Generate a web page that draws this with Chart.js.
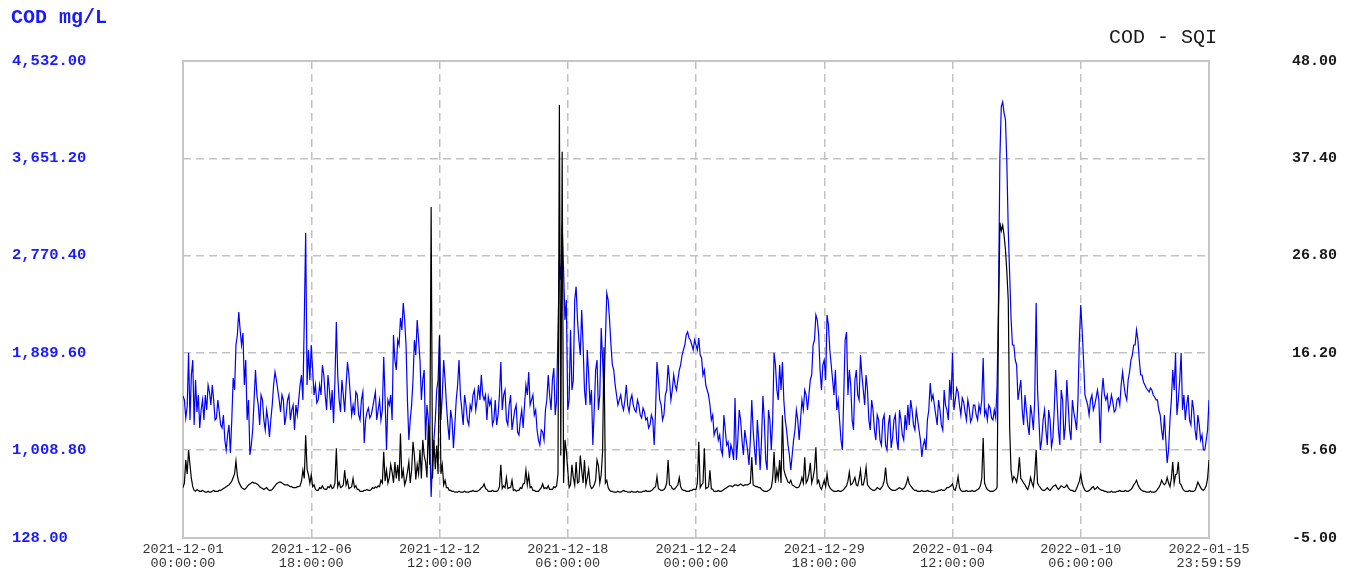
<!DOCTYPE html>
<html>
<head>
<meta charset="utf-8">
<title>COD - SQI</title>
<script src="https://cdn.jsdelivr.net/npm/chart.js@4.4.1/dist/chart.umd.min.js"></script>
<style>
  body { margin: 0; background: #fff; }
  #wrap { width: 1353px; height: 573px; }
</style>
</head>
<body>
<div id="wrap"><canvas id="codChart" width="1353" height="573"></canvas></div>
<script>
// time axis: hours since 2021-12-01 00:00
// main samples every 3 hours, plus an in-between sample (+1.5 h) read from the band of the trace
const stepHours = 3;
const tickHours = [0, 138, 276, 414, 552, 690, 828, 966, 1104];
const tickLabels = [
    ["2021-12-01", "00:00:00"], ["2021-12-06", "18:00:00"], ["2021-12-12", "12:00:00"],
    ["2021-12-18", "06:00:00"], ["2021-12-24", "00:00:00"], ["2021-12-29", "18:00:00"],
    ["2022-01-04", "12:00:00"], ["2022-01-10", "06:00:00"], ["2022-01-15", "23:59:59"]
];

// left axis (COD mg/L); the bottom label reads 128.00 but sits at the frame edge
const codTicks = [1008.80, 1889.60, 2770.40, 3651.20, 4532.00];
const codAxisMin = 211.8;
const codBottomLabel = "128.00";

// right axis (SQI)
const sqiTicks = [5.60, 16.20, 26.80, 37.40, 48.00];
const sqiAxisMin = -3.99;
const sqiBottomLabel = "-5.00";

const codValues = [
    // 12-01 .. 12-06
    1498, 1299, 1890, 1688, 1236, 1353, 1208, 1462, 1507, 1598,
    1416, 1462, 1299, 1353, 1208, 1099, 1145, 982, 1661, 1960,
    2259, 1960, 1598, 1281, 964, 1190, 1733, 1416, 1507, 1281,
    1371, 1127, 1416, 1715, 1552, 1353, 1462, 1326, 1507, 1371,
    1190, 1326, 1598, 1462, 2974, 1915,
    // 12-06 .. 12-12
    1960, 1507, 1435, 1598, 1779, 1507, 1688, 1371, 1253, 2168,
    1462, 1643, 1353, 1806, 1507, 1416, 1534, 1326, 1462, 1072,
    1353, 1299, 1389, 1534, 1371, 1281, 1851, 1009, 1416, 1281,
    1824, 2005, 2205, 2340, 1960, 1099, 1416, 2005, 2186, 1824,
    1643, 1099, 1281, 583, 1099, 1552,
    // 12-12 .. 12-18
    2032, 1507, 1643, 1236, 1371, 1027, 1462, 1824, 1371, 1507,
    1281, 1416, 1507, 1371, 1598, 1688, 1462, 1281, 1416, 1236,
    1462, 1326, 1806, 1507, 1281, 1416, 1190, 1371, 1172, 1281,
    1208, 1598, 1715, 1462, 1326, 1190, 1054, 1172, 1371, 1688,
    1371, 1751, 1462, 2712, 3046, 2186,
    // 12-18 .. 12-24
    1371, 2096, 1643, 2488, 2005, 2277, 1552, 1915, 1416, 1054,
    1733, 1371, 2114, 1507, 2431, 2186, 1779, 1598, 1416, 1507,
    1371, 1598, 1353, 1507, 1371, 1462, 1326, 1389, 1281, 1208,
    1326, 1054, 1806, 1462, 1281, 1507, 1779, 1462, 1688, 1552,
    1733, 1869, 1960, 2078, 2005, 1915,
    // 12-24 .. 12-29
    1960, 2023, 1842, 1733, 1552, 1416, 1326, 1190, 1099, 1009,
    1326, 1054, 937, 1009, 1480, 1099, 1281, 964, 1099, 873,
    1462, 1009, 1281, 828, 1498, 918, 1371, 1009, 1890, 1552,
    1779, 1806, 1281, 1054, 828, 1099, 1371, 1099, 1462, 1552,
    1371, 1643, 1960, 2232, 2050, 1552,
    // 12-29 .. 01-04
    1824, 2232, 1915, 1643, 1733, 1462, 1099, 1507, 2078, 1733,
    1281, 1643, 1507, 1869, 1552, 1688, 1281, 1462, 1190, 1326,
    1099, 1281, 1054, 1236, 1027, 1281, 1099, 1371, 1145, 1326,
    1416, 1462, 1236, 1371, 1190, 946, 1099, 1281, 1616, 1507,
    1326, 1462, 1236, 1552, 1371, 1643,
    // 01-04 .. 01-10
    1890, 1462, 1534, 1326, 1444, 1281, 1389, 1299, 1416, 1281,
    1353, 1842, 1371, 1416, 1299, 1371, 1600, 3660, 4161, 4000,
    3000, 2200, 1960, 1779, 1552, 1371, 1507, 1236, 1416, 1190,
    2340, 1281, 1099, 1371, 1054, 1281, 1117, 1733, 1190, 1552,
    1099, 1643, 1190, 1462, 1281, 1462,
    // 01-10 .. 01-15
    2322, 1824, 1462, 1326, 1507, 1416, 1552, 1072, 1661, 1462,
    1371, 1507, 1353, 1462, 1416, 1715, 1507, 1643, 1824, 1960,
    2096, 1824, 1688, 1598, 1552, 1570, 1507, 1462, 1371, 1190,
    1326, 891, 1281, 1733, 1887, 1462, 1887, 1507, 1416, 1281,
    1462, 1190, 1326, 1099, 1009, 1099, 1462
];

// in-between COD readings (1.5 h after each main sample)
const codMidValues = [
    1462, 1400, 1281, 1824, 1643, 1507, 1371, 1281, 1371, 1534,
    1598, 1281, 1462, 1236, 1326, 1009, 1236, 1281, 1552, 2050,
    2096, 2068, 1824, 1462, 1054, 1462, 1507, 1236, 1462, 1190,
    1281, 1281, 1598, 1643, 1462, 1507, 1236, 1462, 1281, 1416,
    1416, 1462, 1688, 2186, 1598, 1643,
    1733, 1598, 1462, 1507, 1688, 1371, 1552, 1552, 1643, 1688,
    1353, 1507, 1598, 1688, 1326, 1326, 1507, 1281, 1534, 1281,
    1389, 1326, 1462, 1281, 1462, 1371, 1462, 1462, 1507, 2050,
    1733, 1960, 2096, 2186, 1462, 1281, 1643, 1869, 2005, 1462,
    1733, 1416, 1099, 918, 1281, 1643,
    1281, 1824, 1416, 1099, 1281, 1236, 1598, 1507, 1236, 1416,
    1236, 1371, 1552, 1462, 1462, 1507, 1507, 1489, 1462, 1281,
    1236, 1507, 1371, 1552, 1236, 1507, 1281, 1416, 1145, 1371,
    1416, 1507, 1416, 1507, 1371, 1099, 1190, 1099, 1462, 1507,
    1643, 1326, 2096, 2548, 2639, 2367,
    1462, 1552, 2367, 2186, 1869, 1960, 1416, 1688, 1552, 1371,
    1824, 1507, 1824, 2005, 2367, 1960, 1733, 1507, 1462, 1416,
    1462, 1416, 1462, 1416, 1353, 1416, 1299, 1353, 1299, 1236,
    1281, 1371, 1643, 1416, 1326, 1552, 1643, 1552, 1598, 1643,
    1779, 1915, 2050, 2023, 1960, 2005,
    1915, 1869, 1688, 1598, 1507, 1281, 1145, 1208, 1145, 964,
    1190, 1081, 1054, 918, 918, 1371, 1099, 1190, 1009, 1099,
    1190, 873, 1099, 1099, 1281, 828, 1281, 1281, 1779, 1462,
    1552, 1462, 1190, 964, 964, 1190, 1281, 1281, 1371, 1507,
    1507, 1688, 2005, 2186, 1733, 1779,
    1643, 2141, 1779, 1507, 1371, 1281, 1009, 2005, 1507, 1598,
    1190, 1733, 1462, 1688, 1416, 1552, 1190, 1371, 1099, 1281,
    1054, 1326, 1009, 1326, 1117, 1326, 1009, 1281, 1099, 1190,
    1236, 1371, 1190, 1281, 1099, 1054, 1009, 1371, 1462, 1416,
    1236, 1371, 1190, 1416, 1281, 1462,
    1371, 1570, 1416, 1480, 1353, 1462, 1263, 1416, 1326, 1416,
    1462, 1326, 1281, 1389, 1281, 1299, 2367, 4120, 4060, 3600,
    2600, 1960, 1824, 1462, 1643, 1236, 1371, 1145, 1326, 1462,
    1552, 1009, 1281, 1190, 1371, 1036, 1371, 1462, 1054, 1462,
    1236, 1416, 1099, 1353, 1190, 2005,
    2096, 1507, 1416, 1462, 1371, 1480, 1462, 1507, 1507, 1507,
    1416, 1444, 1371, 1480, 1598, 1598, 1462, 1715, 1869, 1960,
    2005, 1688, 1625, 1570, 1534, 1552, 1489, 1462, 1326, 1099,
    1099, 1009, 1462, 1552, 1326, 1643, 1371, 1281, 1507, 1236,
    1371, 1099, 1236, 1145, 1009, 1190
];

const sqiValues = [
    // 12-01 .. 12-06
    1.5, 4.5, 5.6, 2.5, 1.2, 1.3, 1.1, 1.2, 1.0, 1.1,
    1.0, 1.2, 1.1, 1.2, 1.3, 1.5, 1.7, 2.0, 2.6, 4.4,
    2.1, 1.5, 1.3, 1.6, 1.9, 2.1, 2.0, 1.8, 1.5, 1.3,
    1.5, 1.2, 1.3, 1.7, 2.0, 2.1, 1.9, 1.8, 1.7, 1.6,
    1.5, 1.6, 1.7, 3.4, 7.2, 2.9,
    // 12-06 .. 12-12
    2.9, 1.8, 1.2, 1.5, 1.7, 1.3, 1.6, 1.8, 1.5, 5.8,
    2.1, 1.6, 3.4, 2.3, 1.5, 2.5, 1.7, 1.3, 1.1, 1.2,
    1.3, 1.2, 1.5, 1.6, 1.7, 2.3, 5.4, 3.4, 2.6, 3.2,
    4.3, 4.0, 7.4, 3.4, 2.3, 4.3, 3.4, 5.0, 4.0, 5.6,
    6.7, 4.3, 8.6, 32.1, 6.7, 6.1,
    // 12-12 .. 12-18
    18.1, 4.0, 2.3, 1.5, 1.2, 1.1, 1.0, 1.1, 1.0, 1.1,
    1.0, 1.1, 1.2, 1.1, 1.2, 1.5, 1.9, 1.3, 1.1, 1.2,
    1.1, 1.2, 4.0, 1.7, 2.6, 1.5, 2.3, 1.3, 1.2, 1.5,
    1.9, 3.4, 2.9, 1.6, 1.2, 1.1, 1.3, 1.9, 1.5, 1.7,
    1.3, 1.6, 1.7, 43.2, 38.1, 6.7,
    // 12-18 .. 12-24
    3.4, 1.8, 2.6, 4.3, 2.1, 3.4, 4.5, 2.6, 1.8, 1.5,
    2.3, 3.9, 2.9, 16.8, 2.3, 1.2, 1.1, 1.0, 1.1, 1.0,
    1.2, 1.1, 1.0, 1.1, 1.0, 1.1, 1.0, 1.1, 1.2, 1.1,
    1.2, 1.5, 2.7, 1.3, 1.2, 1.5, 4.5, 1.7, 1.3, 1.6,
    2.6, 1.3, 1.2, 1.1, 1.2, 1.3,
    // 12-24 .. 12-29
    1.3, 6.5, 1.8, 5.8, 1.5, 3.4, 1.3, 1.1, 1.2, 1.1,
    1.3, 1.5, 1.7, 1.6, 1.8, 1.7, 1.9, 1.7, 1.8, 1.9,
    4.8, 1.7, 1.6, 1.5, 1.2, 1.1, 1.2, 1.5, 5.4, 3.4,
    4.5, 9.4, 2.9, 2.1, 2.3, 1.7, 1.5, 1.6, 2.6, 4.8,
    2.3, 4.2, 2.6, 5.9, 2.3, 1.3,
    // 12-29 .. 01-04
    2.3, 3.0, 1.5, 1.2, 1.1, 1.2, 1.1, 1.3, 1.7, 3.2,
    1.9, 2.6, 1.7, 3.4, 1.8, 3.7, 1.6, 1.3, 1.2, 1.5,
    1.3, 1.7, 3.7, 1.6, 1.3, 1.2, 1.3, 1.5, 1.3, 1.6,
    2.6, 1.7, 1.3, 1.2, 1.1, 1.2, 1.1, 1.2, 1.1, 1.0,
    1.1, 1.2, 1.3, 1.2, 1.5, 1.6,
    // 01-04 .. 01-10
    1.9, 1.2, 2.7, 1.2, 1.1, 1.2, 1.1, 1.2, 1.1, 1.3,
    1.7, 6.9, 1.6, 1.2, 1.1, 1.2, 1.5, 30.4, 30.1, 27.4,
    21.9, 3.4, 2.7, 2.1, 4.8, 2.3, 1.8, 1.3, 2.6, 1.6,
    5.6, 1.7, 1.3, 1.2, 1.5, 1.2, 1.6, 1.8, 1.3, 1.7,
    1.5, 1.8, 1.3, 1.2, 1.1, 1.8,
    // 01-10 .. 01-15
    3.0, 1.5, 1.1, 1.2, 1.5, 1.3, 1.6, 1.3, 1.2, 1.1,
    1.0, 1.1, 1.0, 1.1, 1.2, 1.1, 1.2, 1.1, 1.3, 1.8,
    2.3, 1.5, 1.2, 1.1, 1.0, 1.1, 1.0, 1.1, 1.5, 2.3,
    1.8, 2.6, 1.6, 4.3, 2.9, 4.3, 1.8, 1.2, 1.1, 1.2,
    1.1, 1.2, 2.1, 1.5, 1.2, 1.7, 4.5
];

// in-between SQI readings (1.5 h after each main sample)
const sqiMidValues = [
    2.0, 3.0, 4.0, 1.6, 1.1, 1.2, 1.1, 1.1, 1.0, 1.0,
    1.1, 1.1, 1.1, 1.2, 1.4, 1.6, 1.8, 2.2, 3.0, 2.8,
    1.8, 1.4, 1.4, 1.8, 2.0, 2.0, 1.9, 1.6, 1.4, 1.4,
    1.3, 1.2, 1.5, 1.9, 2.1, 2.0, 1.8, 1.8, 1.6, 1.5,
    1.5, 1.6, 2.2, 2.5, 3.5, 2.0,
    1.6, 1.3, 1.2, 1.4, 1.4, 1.3, 1.5, 1.4, 2.0, 1.6,
    1.5, 1.8, 1.8, 1.4, 1.6, 1.5, 1.3, 1.1, 1.1, 1.2,
    1.2, 1.3, 1.4, 1.5, 1.6, 2.0, 2.2, 2.0, 4.0, 2.0,
    2.5, 2.2, 2.5, 1.8, 3.2, 2.0, 6.5, 2.4, 3.0, 2.5,
    5.0, 2.6, 4.0, 2.5, 3.5, 3.0,
    3.0, 1.8, 1.5, 1.2, 1.1, 1.0, 1.0, 1.0, 1.0, 1.0,
    1.0, 1.1, 1.1, 1.1, 1.3, 1.6, 1.4, 1.1, 1.1, 1.1,
    1.1, 1.6, 1.4, 1.5, 1.4, 1.5, 1.2, 1.1, 1.2, 1.4,
    2.0, 1.8, 1.5, 1.2, 1.1, 1.1, 1.5, 1.4, 1.4, 1.3,
    1.3, 1.5, 3.0, 5.0, 2.0, 5.5,
    1.5, 4.0, 1.8, 2.0, 5.0, 2.0, 1.8, 3.5, 1.4, 1.8,
    4.5, 2.0, 5.5, 2.0, 1.5, 1.1, 1.0, 1.0, 1.0, 1.1,
    1.1, 1.0, 1.0, 1.0, 1.0, 1.0, 1.0, 1.1, 1.1, 1.1,
    1.3, 1.6, 1.4, 1.2, 1.3, 2.0, 1.8, 1.4, 1.4, 1.8,
    1.6, 1.2, 1.1, 1.1, 1.2, 1.3,
    2.0, 1.5, 2.0, 1.4, 1.6, 1.4, 1.1, 1.1, 1.1, 1.2,
    1.4, 1.6, 1.7, 1.7, 1.8, 1.8, 1.8, 1.8, 1.8, 2.0,
    1.8, 1.6, 1.5, 1.3, 1.1, 1.1, 1.3, 2.5, 2.0, 2.5,
    2.0, 3.5, 2.5, 2.0, 1.8, 1.6, 1.5, 2.0, 2.0, 2.0,
    3.0, 2.0, 3.5, 2.0, 1.6, 1.8,
    1.6, 1.8, 1.3, 1.1, 1.1, 1.1, 1.2, 1.5, 2.2, 1.8,
    2.2, 1.8, 2.4, 1.8, 2.5, 1.8, 1.4, 1.2, 1.3, 1.4,
    1.5, 2.2, 2.0, 1.4, 1.2, 1.2, 1.4, 1.4, 1.4, 2.0,
    1.9, 1.5, 1.2, 1.1, 1.1, 1.1, 1.1, 1.1, 1.0, 1.0,
    1.1, 1.2, 1.2, 1.3, 1.5, 1.7,
    1.3, 1.8, 1.5, 1.1, 1.1, 1.1, 1.1, 1.1, 1.2, 1.4,
    2.5, 2.0, 1.3, 1.1, 1.1, 1.3, 20.0, 29.5, 29.0, 25.0,
    8.0, 2.2, 2.5, 3.0, 2.5, 2.0, 1.5, 1.8, 2.0, 3.0,
    2.0, 1.5, 1.2, 1.3, 1.3, 1.4, 1.7, 1.5, 1.5, 1.6,
    1.6, 1.5, 1.2, 1.1, 1.4, 2.2,
    2.0, 1.2, 1.1, 1.3, 1.6, 1.4, 1.4, 1.2, 1.1, 1.0,
    1.0, 1.0, 1.0, 1.1, 1.1, 1.1, 1.1, 1.2, 1.5, 2.0,
    1.8, 1.3, 1.1, 1.0, 1.0, 1.0, 1.0, 1.3, 1.8, 2.0,
    2.0, 2.0, 2.5, 2.0, 3.0, 2.0, 1.4, 1.1, 1.1, 1.1,
    1.1, 1.6, 1.8, 1.3, 1.4, 2.5
];

// merge main and in-between samples into one {x, y} list
function toPoints(values, midValues) {
    let points = [];
    values.forEach((v, i) => {
        points.push({ x: i * stepHours, y: v });
        if (i < midValues.length) {
            points.push({ x: i * stepHours + stepHours / 2, y: midValues[i] });
        }
    });
    return points;
}

function fmt(n) {
    return n.toLocaleString("en-US", { minimumFractionDigits: 2, maximumFractionDigits: 2 });
}

const gridColor = "#c2c2c2";
const monoFont = "'Liberation Mono', 'DejaVu Sans Mono', monospace";

// frame round the plot plus the two header texts
const framePlugin = {
    id: "frame",
    beforeDatasetsDraw(chart) {
        const a = chart.chartArea;
        const ctx = chart.ctx;
        ctx.save();
        ctx.strokeStyle = "#c6c6c6";
        ctx.lineWidth = 2;
        ctx.strokeRect(a.left, a.top, a.right - a.left, a.bottom - a.top);
        ctx.restore();
    },
    afterDraw(chart) {
        const ctx = chart.ctx;
        ctx.save();
        ctx.textBaseline = "middle";
        ctx.font = "bold 20px " + monoFont;
        ctx.fillStyle = "#1a1aff";
        ctx.textAlign = "left";
        ctx.fillText("COD mg/L", 11, 18);
        ctx.font = "20px " + monoFont;
        ctx.fillStyle = "#1a1a1a";
        ctx.textAlign = "right";
        ctx.fillText("COD - SQI", 1217, 38);
        ctx.restore();
    }
};

const ctx = document.getElementById("codChart").getContext("2d");

new Chart(ctx, {
    type: "line",
    data: {
        datasets: [
            {
                label: "SQI",
                data: toPoints(sqiValues, sqiMidValues),
                yAxisID: "ySqi",
                borderColor: "#000000",
                borderWidth: 1.2,
                pointRadius: 0,
                tension: 0
            },
            {
                label: "COD",
                data: toPoints(codValues, codMidValues),
                yAxisID: "yCod",
                borderColor: "#0000ff",
                borderWidth: 1.2,
                pointRadius: 0,
                tension: 0
            }
        ]
    },
    options: {
        responsive: false,
        animation: false,
        events: [],
        layout: { padding: { left: 12, top: 61, right: 16, bottom: 0 } },
        plugins: {
            legend: { display: false },
            tooltip: { enabled: false }
        },
        scales: {
            x: {
                type: "linear",
                position: "bottom",
                min: 0,
                max: 1104,
                afterBuildTicks: axis => { axis.ticks = tickHours.map(h => ({ value: h })); },
                afterFit: axis => { axis.height = 35; },
                grid: { color: gridColor, lineWidth: 1.5, drawTicks: false },
                border: { display: false, dash: [8, 5] },
                ticks: {
                    autoSkip: false,
                    maxRotation: 0,
                    padding: 4,
                    color: "#333333",
                    font: { family: monoFont, size: 13.5, lineHeight: 1.05 },
                    callback: (value, index) => tickLabels[index]
                }
            },
            yCod: {
                type: "linear",
                position: "left",
                min: codAxisMin,
                max: 4532,
                afterBuildTicks: axis => {
                    axis.ticks = [codAxisMin].concat(codTicks).map(v => ({ value: v }));
                },
                afterFit: axis => { axis.width = 171; },
                grid: { color: gridColor, lineWidth: 1.5, drawTicks: false },
                border: { display: false, dash: [8, 5] },
                ticks: {
                    crossAlign: "far",
                    padding: 0,
                    color: "#1a1aff",
                    font: { family: monoFont, size: 15.5, weight: "bold" },
                    callback: (value, index) => index === 0 ? codBottomLabel : fmt(codTicks[index - 1])
                }
            },
            ySqi: {
                type: "linear",
                position: "right",
                min: sqiAxisMin,
                max: 48,
                afterBuildTicks: axis => {
                    axis.ticks = [sqiAxisMin].concat(sqiTicks).map(v => ({ value: v }));
                },
                afterFit: axis => { axis.width = 128; },
                grid: { display: false },
                border: { display: false },
                ticks: {
                    crossAlign: "far",
                    padding: 0,
                    color: "#1a1a1a",
                    font: { family: monoFont, size: 15, weight: "bold" },
                    callback: (value, index) => index === 0 ? sqiBottomLabel : fmt(sqiTicks[index - 1])
                }
            }
        }
    },
    plugins: [framePlugin]
});
</script>
</body>
</html>
